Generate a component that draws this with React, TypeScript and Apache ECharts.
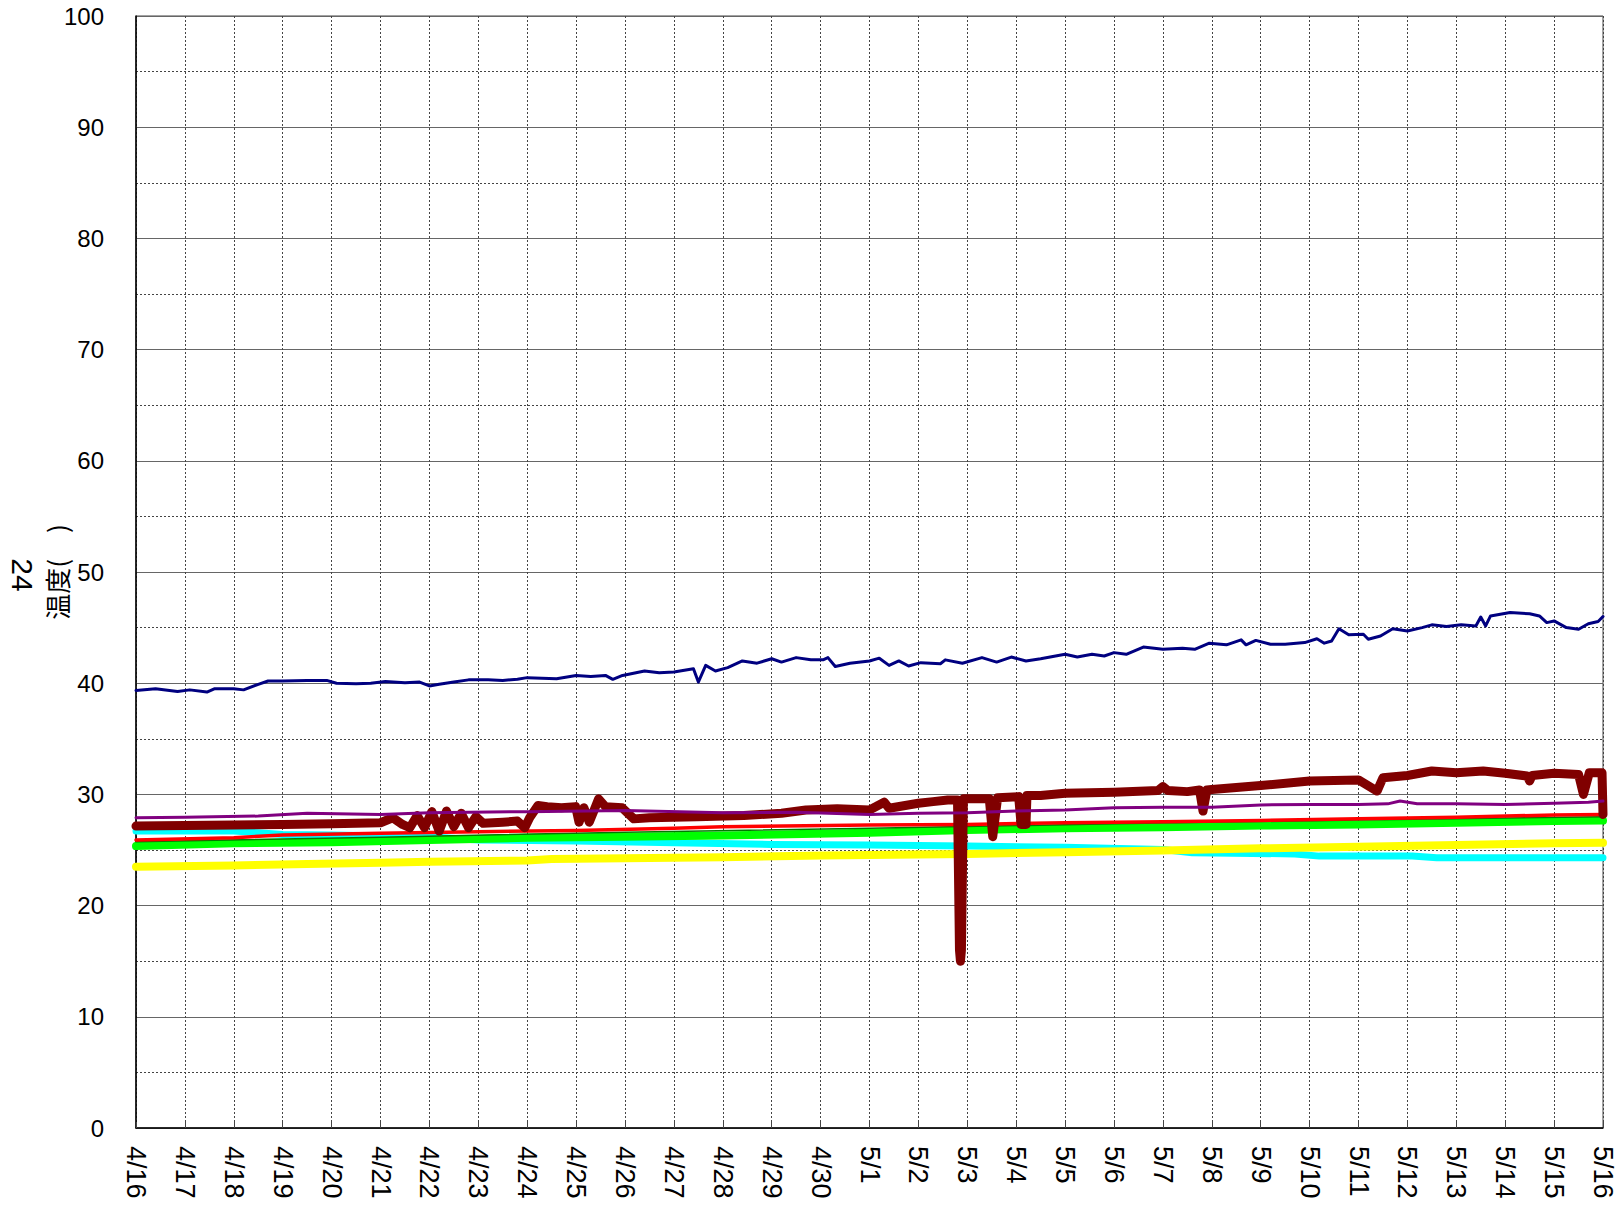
import React, { useEffect, useRef } from 'react';
import * as echarts from 'echarts';

// X tick labels: one per day, 4/16 .. 5/16 (day index 0..30)
const xLabels = [
  '4/16', '4/17', '4/18', '4/19', '4/20', '4/21', '4/22', '4/23', '4/24', '4/25',
  '4/26', '4/27', '4/28', '4/29', '4/30', '5/1', '5/2', '5/3', '5/4', '5/5',
  '5/6', '5/7', '5/8', '5/9', '5/10', '5/11', '5/12', '5/13', '5/14', '5/15', '5/16',
];

// [day offset from 4/16, temperature]
const navyData = [
  [0, 39.35], [0.4, 39.5], [0.85, 39.25], [1.1, 39.4], [1.45, 39.2], [1.6, 39.5], [2.0, 39.5], [2.2, 39.4],
  [2.5, 39.9], [2.7, 40.2], [3.0, 40.2], [3.5, 40.25], [3.9, 40.25], [4.1, 40.0], [4.5, 39.95], [4.8, 40.0],
  [5.1, 40.15], [5.5, 40.05], [5.8, 40.1], [6.0, 39.75], [6.2, 39.9], [6.5, 40.1], [6.8, 40.3], [7.2, 40.3],
  [7.5, 40.25], [7.8, 40.35], [8.0, 40.5], [8.3, 40.45], [8.6, 40.4], [9.0, 40.7], [9.3, 40.6], [9.6, 40.7],
  [9.75, 40.35], [9.95, 40.7], [10.4, 41.1], [10.7, 40.95], [11.0, 41.0], [11.4, 41.3], [11.5, 40.1],
  [11.65, 41.6], [11.85, 41.1], [12.1, 41.4], [12.4, 42.0], [12.7, 41.8], [13.0, 42.2], [13.2, 41.9],
  [13.5, 42.3], [13.8, 42.1], [14.05, 42.1], [14.15, 42.3], [14.3, 41.5], [14.6, 41.8], [15.0, 42.0],
  [15.2, 42.25], [15.4, 41.6], [15.6, 42.0], [15.8, 41.55], [16.05, 41.85], [16.45, 41.75], [16.55, 42.1],
  [16.9, 41.8], [17.3, 42.3], [17.6, 41.9], [17.9, 42.35], [18.2, 42.0], [18.5, 42.2], [19.0, 42.6],
  [19.25, 42.35], [19.55, 42.6], [19.8, 42.45], [20.0, 42.75], [20.25, 42.6], [20.6, 43.25], [21.0, 43.05],
  [21.4, 43.15], [21.65, 43.05], [21.95, 43.6], [22.3, 43.45], [22.6, 43.9], [22.7, 43.45], [22.9, 43.85],
  [23.2, 43.5], [23.5, 43.5], [23.9, 43.65], [24.15, 44.0], [24.3, 43.6], [24.45, 43.8], [24.6, 44.9],
  [24.8, 44.35], [25.1, 44.4], [25.2, 43.95], [25.45, 44.25], [25.7, 44.9], [26.0, 44.7], [26.3, 45.0],
  [26.5, 45.25], [26.8, 45.1], [27.1, 45.25], [27.4, 45.15], [27.5, 45.95], [27.6, 45.15], [27.7, 46.05],
  [28.1, 46.35], [28.5, 46.25], [28.7, 46.05], [28.85, 45.45], [29.0, 45.6], [29.25, 45.0], [29.5, 44.85],
  [29.7, 45.35], [29.9, 45.55], [30.0, 46.0],
];

const purpleData = [
  [0, 27.9], [1, 27.95], [2.5, 28.05], [3.5, 28.3], [5, 28.2], [6, 28.35], [8, 28.45], [10, 28.55],
  [12, 28.35], [13.5, 28.4], [15, 28.2], [16, 28.3], [17, 28.35], [18, 28.5], [19, 28.6], [20, 28.8],
  [21, 28.85], [22, 28.85], [23, 29.05], [24, 29.1], [25, 29.1], [25.6, 29.15], [25.85, 29.4],
  [26.2, 29.15], [27, 29.15], [28, 29.1], [29, 29.2], [29.7, 29.3], [30, 29.4],
];

const redData = [
  [0, 25.9], [2, 26.1], [3, 26.35], [5, 26.5], [7, 26.65], [9, 26.75], [11, 26.95], [12, 27.1],
  [15, 27.25], [17, 27.3], [19, 27.45], [21, 27.55], [23, 27.65], [25, 27.8], [27, 27.95], [29, 28.15],
  [30, 28.2],
];

const greenData = [
  [0, 25.35], [2, 25.6], [4, 25.7], [6, 25.9], [8, 26.1], [10, 26.2], [12, 26.3], [15, 26.55],
  [17, 26.8], [19, 26.95], [21, 27.05], [23, 27.2], [25, 27.3], [27, 27.45], [29, 27.6], [30, 27.65],
];

const darkGreenData = [
  [0, 25.75], [5, 26.15], [10, 26.6], [15, 26.95], [20, 27.35], [25, 27.7], [30, 28.0],
];

const cyanData = [
  [0, 26.7], [2, 26.7], [2.5, 26.55], [3, 26.4], [4, 26.35], [6, 26.2], [7, 25.9], [9, 25.8],
  [11, 25.65], [13, 25.5], [15, 25.45], [17, 25.35], [19, 25.25], [21, 25.05], [21.6, 24.75],
  [23.7, 24.65], [24.2, 24.45], [26.1, 24.45], [26.6, 24.3], [30, 24.3],
];

const yellowData = [
  [0, 23.5], [2, 23.6], [3.5, 23.75], [5, 23.85], [6, 23.95], [8, 24.05], [8.5, 24.2], [10, 24.25],
  [12, 24.35], [14, 24.5], [15, 24.55], [17, 24.65], [19, 24.8], [21, 24.95], [23, 25.15], [25, 25.3],
  [27, 25.45], [29, 25.6], [30, 25.65],
];

const darkRedData = [
  [0, 27.15], [1, 27.2], [2, 27.25], [3, 27.3], [4, 27.35], [5, 27.45], [5.25, 27.9], [5.45, 27.3],
  [5.6, 27.0], [5.75, 28.1], [5.9, 27.0], [6.05, 28.45], [6.2, 26.7], [6.35, 28.5], [6.5, 27.1],
  [6.65, 28.3], [6.8, 27.0], [6.95, 28.0], [7.1, 27.4], [7.5, 27.5], [7.8, 27.6], [7.95, 27.0],
  [8.05, 27.9], [8.22, 29.0], [8.41, 28.9], [8.7, 28.8], [8.99, 28.9], [9.06, 27.5], [9.16, 28.8],
  [9.27, 27.5], [9.37, 28.6], [9.46, 29.6], [9.6, 28.9], [9.94, 28.8], [10.18, 27.8], [10.5, 27.9],
  [11.47, 28.0], [12.43, 28.1], [13.2, 28.3], [13.7, 28.6], [14.34, 28.7], [15.0, 28.6], [15.3, 29.3],
  [15.4, 28.75], [16.0, 29.2], [16.3, 29.35], [16.6, 29.5], [16.8, 29.5], [16.84, 16], [16.86, 15.0],
  [16.88, 16], [16.92, 29.6], [17.3, 29.6], [17.45, 29.6], [17.52, 26.2], [17.62, 29.7], [18.05, 29.8],
  [18.1, 27.3], [18.2, 27.3], [18.22, 29.9], [18.5, 29.9], [19, 30.1], [20, 30.2], [20.9, 30.35],
  [21.0, 30.7], [21.1, 30.35], [21.5, 30.25], [21.75, 30.4], [21.82, 28.5], [21.9, 30.4], [22, 30.45],
  [23, 30.8], [24, 31.2], [25, 31.3], [25.38, 30.3], [25.5, 31.5], [26, 31.7], [26.5, 32.1], [27, 31.95],
  [27.55, 32.1], [28, 31.9], [28.45, 31.65], [28.5, 31.2], [28.55, 31.7], [29, 31.9], [29.5, 31.8],
  [29.6, 30.0], [29.72, 31.95], [29.98, 31.95], [30, 28.2],
];

const FONT = "'Liberation Sans', Arial, sans-serif";

function line(name: string, data: number[][], color: string, width: number) {
  return {
    name,
    type: 'line',
    data,
    symbol: 'none',
    showSymbol: false,
    smooth: false,
    lineStyle: { color, width, cap: 'round', join: 'round' },
    emphasis: { disabled: true },
  };
}

export default function App() {
  const ref = useRef<HTMLDivElement>(null);
  useEffect(() => {
    document.body.style.margin = '0';
    const chart = echarts.init(ref.current!, null, { renderer: 'svg' });
    chart.setOption({
      animation: false,
      backgroundColor: '#ffffff',
      grid: {
        left: 136, top: 16, right: 18, bottom: 82,
        show: true, borderColor: '#444', borderWidth: 1, backgroundColor: 'transparent',
        outerBoundsMode: 'none',
      },
      xAxis: {
        type: 'value', min: 0, max: 30, interval: 1,
        axisLine: { show: true, onZero: false, lineStyle: { color: '#000', width: 1.5 } },
        axisTick: { show: true, inside: true, length: 6, lineStyle: { color: '#444' } },
        axisLabel: {
          rotate: -90, margin: 18, fontSize: 27, color: '#000', fontFamily: FONT,
          showMinLabel: true, showMaxLabel: true,
          formatter: (v: number) => xLabels[Math.round(v)] ?? '',
        },
        splitLine: { show: true, lineStyle: { color: '#444', width: 1, type: [2, 2] } },
      },
      yAxis: {
        type: 'value', min: 0, max: 100, interval: 10,
        name: '温度(　)', nameLocation: 'middle', nameGap: 67, nameMoveOverlap: false,
        nameTextStyle: { fontSize: 26, color: '#000', fontFamily: "'Noto Sans CJK JP', sans-serif" },
        axisLine: { show: true, lineStyle: { color: '#000', width: 1.5 } },
        axisTick: { show: false },
        axisLabel: { margin: 32, fontSize: 24, color: '#000', fontFamily: FONT },
        splitLine: { show: true, lineStyle: { color: '#666', width: 1, type: 'solid' } },
        minorTick: { show: false, splitNumber: 2 },
        minorSplitLine: { show: true, lineStyle: { color: '#444', width: 1, type: [2, 2] } },
      },
      graphic: [
        {
          type: 'text', x: 22, y: 575, rotation: -Math.PI / 2,
          style: { text: '24', fontSize: 30, fill: '#000', fontFamily: FONT, align: 'center', verticalAlign: 'middle' },
        },
      ],
      series: [
        line('cyan', cyanData, '#00FFFF', 7),
        line('yellow', yellowData, '#FFFF00', 8),
        line('green', greenData, '#00FF00', 8),
        line('darkgreen', darkGreenData, '#007a00', 1.5),
        line('red', redData, '#FF0000', 3.5),
        line('darkred', darkRedData, '#800000', 9),
        line('purple', purpleData, '#800080', 3),
        line('navy', navyData, '#000080', 3),
      ],
    });
    return () => chart.dispose();
  }, []);
  return <div ref={ref} style={{ width: 1621, height: 1210, background: '#fff' }} />;
}
